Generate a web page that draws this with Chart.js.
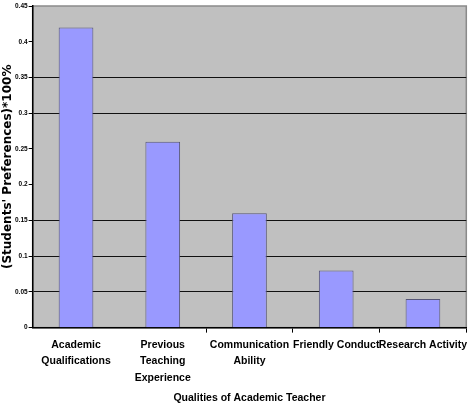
<!DOCTYPE html>
<html lang="en">
<head>
    <meta charset="UTF-8">
    <title>Qualities of Academic Teacher</title>
    <script src="https://cdn.jsdelivr.net/npm/chart.js"></script>
    <style>
        html, body {
            margin: 0;
            padding: 0;
            background: #ffffff;
        }
        #wrap {
            width: 471px;
            height: 404px;
        }
    </style>
</head>
<body>
    <div id="wrap"><canvas id="qualChart"></canvas></div>

    <script>
        // data
        const categories = [
            ["Academic", "Qualifications"],
            ["Previous", "Teaching", "Experience"],
            ["Communication", "Ability"],
            "Friendly Conduct",
            "Research Activity"
        ];
        const preferences = [0.42, 0.26, 0.16, 0.08, 0.04];
        const yTicks = [0, 0.05, 0.1, 0.15, 0.2, 0.25, 0.3, 0.35, 0.4, 0.45];
        const tickLabels = ["0", "0.05", "0.1", "0.15", "0.2", "0.25", "0.3", "0.35", "0.4", "0.45"];
        // gridlines that survive in the scan
        const shownGrid = [0.05, 0.1, 0.15, 0.3, 0.35];

        const sans = "'Liberation Sans', Arial, sans-serif";

        // grey plot area with a thin border, like the old Excel chart
        const plotBg = {
            id: 'plotBg',
            beforeDraw(chart) {
                const { ctx, chartArea: a } = chart;
                ctx.save();
                ctx.fillStyle = '#c0c0c0';
                ctx.fillRect(a.left, a.top, a.right - a.left, a.bottom - a.top);
                ctx.strokeStyle = '#8a8a8a';
                ctx.lineWidth = 1.5;
                ctx.strokeRect(a.left, a.top, a.right - a.left, a.bottom - a.top);
                ctx.restore();
            }
        };

        const ctx = document.getElementById("qualChart").getContext("2d");
        new Chart(ctx, {
            type: 'bar',
            data: {
                labels: categories,
                datasets: [{
                    label: 'Preference',
                    data: preferences,
                    backgroundColor: '#9999ff',
                    borderColor: '#555577',
                    borderWidth: 1,
                    barPercentage: 0.4,
                    categoryPercentage: 1
                }]
            },
            options: {
                responsive: true,
                maintainAspectRatio: false,
                animation: false,
                layout: { padding: { top: 6, right: 0, left: 2, bottom: 0 } },
                plugins: {
                    legend: { display: false },
                    tooltip: { enabled: false }
                },
                scales: {
                    x: {
                        grid: {
                            display: true,
                            offset: true,
                            drawOnChartArea: false,
                            color: c => c.index < 2 ? 'rgba(0,0,0,0)' : '#000000',
                            tickLength: 5
                        },
                        border: { color: '#000000', width: 1.5 },
                        ticks: {
                            color: '#000000',
                            maxRotation: 0,
                            autoSkip: false,
                            padding: 4,
                            font: { family: sans, size: 10.5, weight: 'bold', lineHeight: 1.58 }
                        },
                        title: {
                            display: true,
                            text: 'Qualities of Academic Teacher',
                            color: '#000000',
                            padding: { top: 1, bottom: 0 },
                            font: { family: sans, size: 10.5, weight: 'bold' }
                        }
                    },
                    y: {
                        min: 0,
                        max: 0.45,
                        afterBuildTicks(axis) {
                            axis.ticks = yTicks.map(v => ({ value: v }));
                        },
                        grid: {
                            color: c => shownGrid.includes(+c.tick.value.toFixed(2)) ? '#111111' : 'rgba(0,0,0,0)',
                            lineWidth: 1,
                            tickColor: '#000000',
                            tickLength: 4
                        },
                        border: { color: '#000000', width: 1.5 },
                        ticks: {
                            color: '#000000',
                            padding: 1,
                            font: { family: sans, size: 6.5, weight: 'bold' },
                            callback: (v, i) => tickLabels[i]
                        },
                        title: {
                            display: true,
                            text: "(Students' Preferences)*100%",
                            color: '#000000',
                            padding: { top: 0, bottom: 0 },
                            font: { family: "'DejaVu Sans', sans-serif", size: 12, weight: 'bold', lineHeight: 1 }
                        }
                    }
                }
            },
            plugins: [plotBg]
        });
    </script>
</body>
</html>
